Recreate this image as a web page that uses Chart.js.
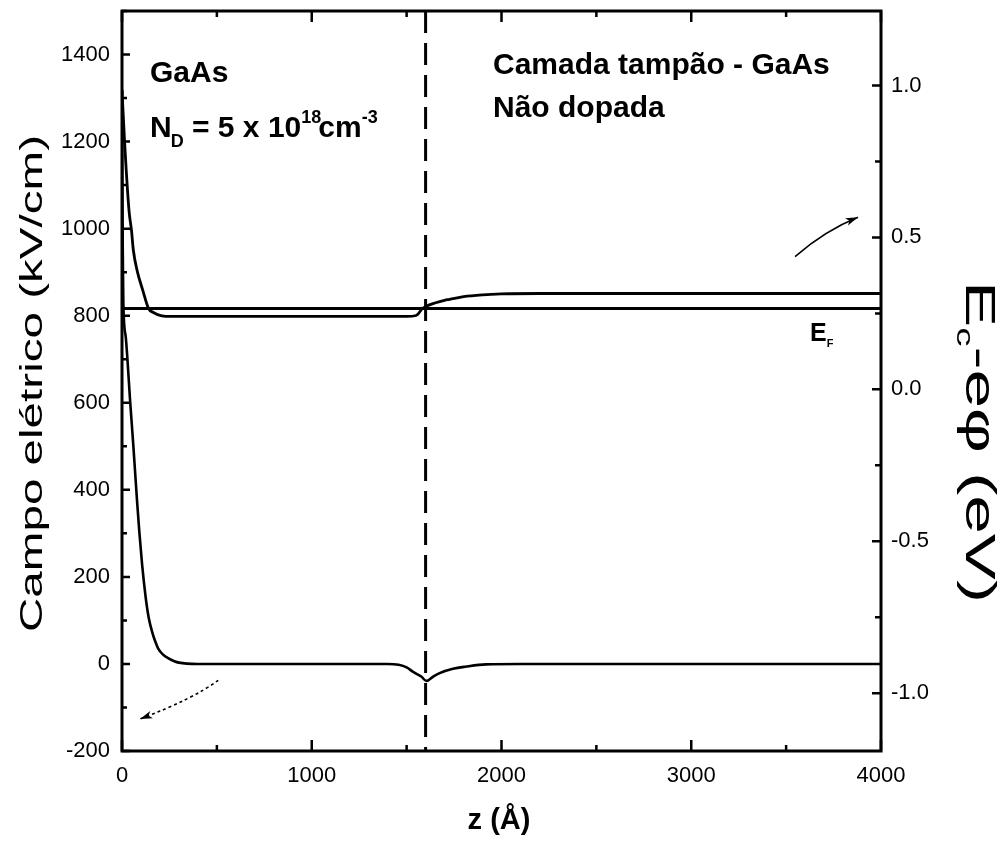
<!DOCTYPE html>
<html lang="pt">
<head>
<meta charset="utf-8">
<title>Campo elétrico e banda de condução - GaAs</title>
<script src="https://cdn.jsdelivr.net/npm/chart.js@4.4.1/dist/chart.umd.min.js"></script>
<style>
  html, body { margin: 0; padding: 0; background: #fff; }
  #grafico { display: block; }
</style>
</head>
<body>
<canvas id="grafico" width="1008" height="842"></canvas>
<script>
// z (Å) e campo elétrico (kV/cm)
const zCampo = [0, 2, 4, 7, 20, 44, 60, 80, 92, 106, 125, 140, 158, 175, 190, 215, 245, 300, 400,
    1000, 1400, 1458, 1500, 1533, 1577, 1604, 1640, 1674, 1744, 1814, 1919, 2100, 4000];
const campo = [1320, 1100, 950, 830, 750, 597, 500, 370, 300, 228, 152, 108, 75, 52, 36, 22, 13, 3, 0,
    0, 0, -2, -8, -18, -29, -39, -29, -21, -11, -6, -1, 0, 0];

// z (Å) e Ec - eφ (eV)
const zBanda = [0, 14, 37, 50, 60, 80, 110, 140, 165, 210, 260, 1000, 1500, 1550, 1584, 1620,
    1700, 1726, 1800, 1900, 2000, 2200, 4000];
const banda = [0.984, 0.81, 0.588, 0.523, 0.457, 0.39, 0.325, 0.266, 0.253, 0.242, 0.24, 0.24, 0.24,
    0.243, 0.266, 0.278, 0.293, 0.296, 0.305, 0.311, 0.314, 0.3155, 0.3155];

// nível de Fermi (eV) e posição da interface (Å)
const nivelFermi = 0.266;
const zInterface = 1600;

// limites dos eixos
const zLimites = [0, 4000];
const campoLimites = [-200, 1500];
const energiaLimites = [-1.19, 1.245];

const FONTE = '"Liberation Sans", Arial, Helvetica, sans-serif';

function pontos(xs, ys) {
    return xs.map((x, i) => ({ x: x, y: ys[i] }));
}

// marcas dos eixos (principais + intermediárias)
function marcas(scale) {
    const vals = scale.ticks.map(t => t.value);
    const passo = vals[1] - vals[0];
    const lista = [];
    for (let v = vals[0] - passo / 2; v <= scale.max + 1e-9; v += passo / 2) {
        if (v < scale.min - 1e-9) continue;
        const principal = vals.some(m => Math.abs(m - v) < passo * 1e-3);
        lista.push({ v: v, principal: principal });
    }
    return lista;
}

function seta(ctx, p0, pc, p2, pontilhada) {
    ctx.beginPath();
    ctx.setLineDash(pontilhada ? [3, 3] : []);
    ctx.moveTo(p0.x, p0.y);
    ctx.quadraticCurveTo(pc.x, pc.y, p2.x, p2.y);
    ctx.stroke();
    ctx.setLineDash([]);
    const ang = Math.atan2(p2.y - pc.y, p2.x - pc.x);
    const L = 13;
    ctx.beginPath();
    ctx.moveTo(p2.x, p2.y);
    ctx.lineTo(p2.x - L * Math.cos(ang - 0.3), p2.y - L * Math.sin(ang - 0.3));
    ctx.lineTo(p2.x - L * 0.7 * Math.cos(ang), p2.y - L * 0.7 * Math.sin(ang));
    ctx.lineTo(p2.x - L * Math.cos(ang + 0.3), p2.y - L * Math.sin(ang + 0.3));
    ctx.closePath();
    ctx.fill();
}

// escreve um pedaço de texto e devolve o x seguinte
function escreve(ctx, texto, x, y, tam, negrito) {
    ctx.font = (negrito ? 'bold ' : '') + tam + 'px ' + FONTE;
    ctx.fillText(texto, x, y);
    return x + ctx.measureText(texto).width;
}

const moldura = {
    id: 'moldura',
    afterDraw(chart) {
        const { ctx, chartArea: a, scales } = chart;
        ctx.save();
        ctx.strokeStyle = '#000';
        ctx.fillStyle = '#000';

        // caixa
        ctx.lineWidth = 3;
        ctx.strokeRect(a.left, a.top, a.right - a.left, a.bottom - a.top);

        // marcas para dentro
        ctx.lineWidth = 2.5;
        ctx.beginPath();
        marcas(scales.x).forEach(m => {
            const px = scales.x.getPixelForValue(m.v);
            const L = m.principal ? 11 : 6;
            ctx.moveTo(px, a.bottom); ctx.lineTo(px, a.bottom - L);
            ctx.moveTo(px, a.top); ctx.lineTo(px, a.top + L);
        });
        marcas(scales.y).forEach(m => {
            const py = scales.y.getPixelForValue(m.v);
            const L = m.principal ? 8 : 5;
            ctx.moveTo(a.left, py); ctx.lineTo(a.left + L, py);
        });
        marcas(scales.y2).forEach(m => {
            const py = scales.y2.getPixelForValue(m.v);
            const L = m.principal ? 9 : 6;
            ctx.moveTo(a.right, py); ctx.lineTo(a.right - L, py);
        });
        ctx.stroke();

        // setas indicando o eixo de cada curva
        const X = v => scales.x.getPixelForValue(v);
        ctx.lineWidth = 1.6;
        seta(ctx,
            { x: X(3547), y: scales.y2.getPixelForValue(0.437) },
            { x: X(3710), y: scales.y2.getPixelForValue(0.524) },
            { x: X(3879), y: scales.y2.getPixelForValue(0.566) }, false);
        seta(ctx,
            { x: X(507), y: scales.y.getPixelForValue(-37.6) },
            { x: X(374), y: scales.y.getPixelForValue(-80.5) },
            { x: X(95), y: scales.y.getPixelForValue(-126.5) }, true);

        // textos
        ctx.textAlign = 'left';
        ctx.textBaseline = 'alphabetic';
        escreve(ctx, 'GaAs', 150, 82, 30, true);
        let x = escreve(ctx, 'N', 150, 137, 30, true);
        x = escreve(ctx, 'D', x - 1, 147, 18, true);
        x = escreve(ctx, ' = 5 x 10', x, 137, 30, true);
        x = escreve(ctx, '18', x, 123, 18, true);
        x = escreve(ctx, 'cm', x - 3, 137, 30, true);
        escreve(ctx, '-3', x, 123, 18, true);

        escreve(ctx, 'Camada tampão - GaAs', 493, 74, 30, true);
        escreve(ctx, 'Não dopada', 493, 117, 30, true);

        x = escreve(ctx, 'E', 810, 341, 25, true);
        escreve(ctx, 'F', x, 347, 11, true);

        ctx.textAlign = 'center';
        escreve(ctx, 'z (Å)', 499, 829, 29, true);

        // título do eixo esquerdo
        ctx.save();
        ctx.translate(42, 383.5);
        ctx.rotate(-Math.PI / 2);
        ctx.font = '31px ' + FONTE;
        const tEsq = 'Campo elétrico (kV/cm)';
        ctx.scale(497 / ctx.measureText(tEsq).width, 1);
        ctx.fillText(tEsq, 0, 0);
        ctx.restore();

        // título do eixo direito
        ctx.save();
        ctx.translate(966, 442);
        ctx.rotate(Math.PI / 2);
        ctx.textAlign = 'left';
        ctx.font = '43px ' + FONTE;
        const wE = ctx.measureText('E').width;
        const wResto = ctx.measureText('-eφ (eV)').width;
        ctx.font = '24px ' + FONTE;
        const wc = ctx.measureText('c').width;
        const total = wE + wc + wResto;
        ctx.scale(322 / total, 1);
        let p = -total / 2;
        p = escreve(ctx, 'E', p, 0, 43, false);
        p = escreve(ctx, 'c', p, 9, 24, false);
        escreve(ctx, '-eφ (eV)', p, 0, 43, false);
        ctx.restore();

        ctx.restore();
    }
};

const eixoTicks = { color: '#000', font: { family: FONTE, size: 22 } };
const semGrade = { display: false, drawTicks: false };

new Chart(document.getElementById('grafico'), {
    type: 'line',
    data: {
        datasets: [
            {
                label: 'Campo elétrico',
                data: pontos(zCampo, campo),
                yAxisID: 'y',
                borderColor: '#000',
                borderWidth: 2.6,
                pointRadius: 0,
                cubicInterpolationMode: 'monotone'
            },
            {
                label: 'Ec - eφ',
                data: pontos(zBanda, banda),
                yAxisID: 'y2',
                borderColor: '#000',
                borderWidth: 2.8,
                pointRadius: 0,
                cubicInterpolationMode: 'monotone'
            },
            {
                label: 'EF',
                data: pontos(zLimites, [nivelFermi, nivelFermi]),
                yAxisID: 'y2',
                borderColor: '#000',
                borderWidth: 2.8,
                pointRadius: 0,
                tension: 0
            },
            {
                label: 'interface',
                data: pontos([zInterface, zInterface], [campoLimites[1], campoLimites[0]]),
                yAxisID: 'y',
                borderColor: '#000',
                borderWidth: 3,
                borderDash: [22, 10],
                pointRadius: 0,
                tension: 0
            }
        ]
    },
    options: {
        responsive: false,
        animation: false,
        devicePixelRatio: 1,
        layout: { padding: { top: 11, left: 0, right: 0, bottom: 0 } },
        plugins: { legend: { display: false }, tooltip: { enabled: false } },
        scales: {
            x: {
                type: 'linear',
                position: 'bottom',
                min: zLimites[0],
                max: zLimites[1],
                grid: semGrade,
                border: { display: false },
                ticks: { ...eixoTicks, stepSize: 1000, padding: 12, maxRotation: 0, callback: v => String(v) },
                afterFit: s => { s.height = 91; s.paddingLeft = 0; s.paddingRight = 0; }
            },
            y: {
                type: 'linear',
                position: 'left',
                min: campoLimites[0],
                max: campoLimites[1],
                grid: semGrade,
                border: { display: false },
                ticks: { ...eixoTicks, stepSize: 200, padding: 12, includeBounds: false, callback: v => String(v) },
                afterFit: s => { s.width = 122; s.paddingTop = 0; s.paddingBottom = 0; }
            },
            y2: {
                type: 'linear',
                position: 'right',
                min: energiaLimites[0],
                max: energiaLimites[1],
                grid: semGrade,
                border: { display: false },
                ticks: {
                    ...eixoTicks,
                    stepSize: 0.5,
                    padding: 10,
                    includeBounds: false,
                    callback: v => v.toFixed(1)
                },
                afterFit: s => { s.width = 127; s.paddingTop = 0; s.paddingBottom = 0; }
            }
        }
    },
    plugins: [moldura]
});
</script>
</body>
</html>
